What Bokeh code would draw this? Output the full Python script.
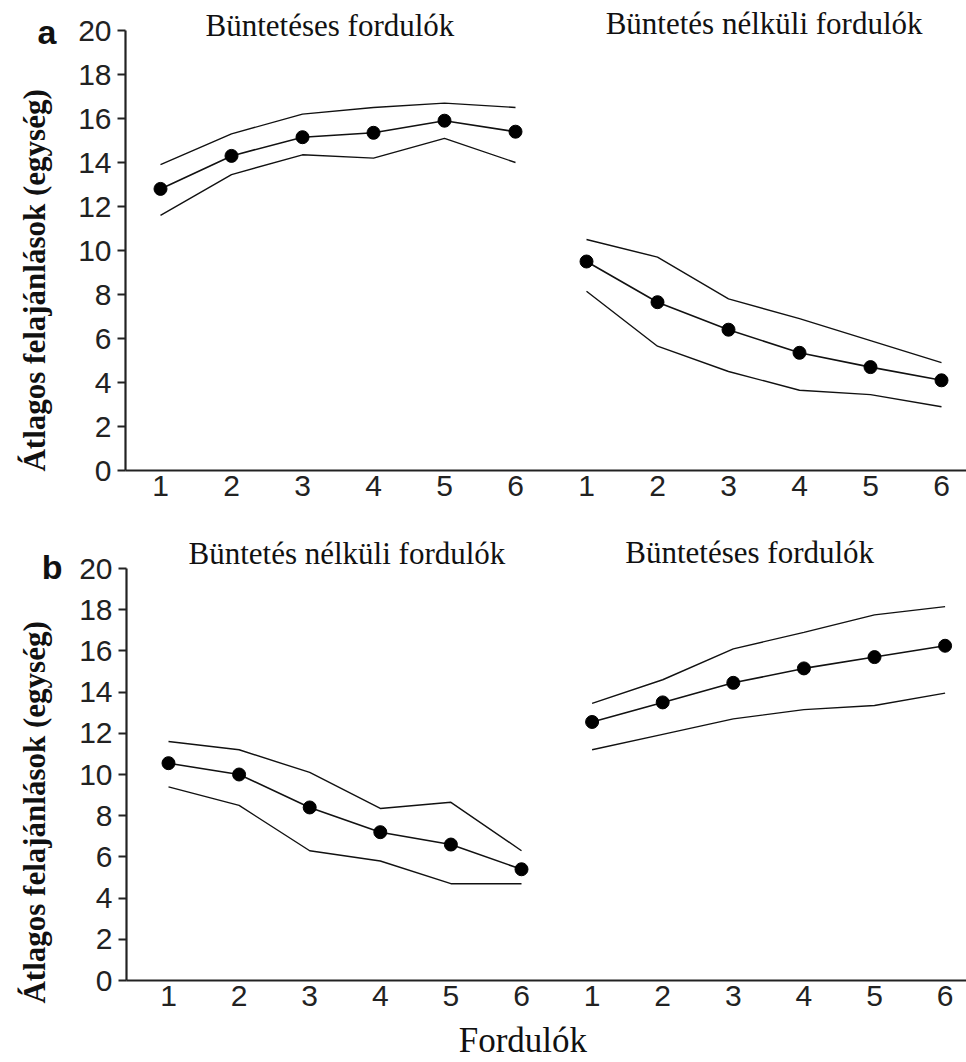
from bokeh.plotting import figure
from bokeh.layouts import column
from bokeh.models import FixedTicker, Label
from bokeh.embed import file_html
from bokeh.resources import INLINE
import math

# ---- data ----
rounds = [1, 2, 3, 4, 5, 6]
tick_positions = [1, 2, 3, 4, 5, 6, 7, 8, 9, 10, 11, 12]
tick_labels = ["1", "2", "3", "4", "5", "6", "1", "2", "3", "4", "5", "6"]
y_ticks = [0, 2, 4, 6, 8, 10, 12, 14, 16, 18, 20]

# panel a: punished rounds first, then non-punished
a_first_title = "Büntetéses fordulók"
a_second_title = "Büntetés nélküli fordulók"
a_first_mean = [12.8, 14.3, 15.15, 15.35, 15.9, 15.4]
a_first_hi = [13.9, 15.3, 16.2, 16.5, 16.7, 16.5]
a_first_lo = [11.6, 13.45, 14.35, 14.2, 15.1, 14.0]
a_second_mean = [9.5, 7.65, 6.4, 5.35, 4.7, 4.1]
a_second_hi = [10.5, 9.7, 7.8, 6.9, 5.9, 4.9]
a_second_lo = [8.15, 5.65, 4.5, 3.65, 3.45, 2.9]

# panel b: non-punished rounds first, then punished
b_first_title = "Büntetés nélküli fordulók"
b_second_title = "Büntetéses fordulók"
b_first_mean = [10.55, 10.0, 8.4, 7.2, 6.6, 5.4]
b_first_hi = [11.6, 11.2, 10.1, 8.35, 8.65, 6.3]
b_first_lo = [9.4, 8.5, 6.3, 5.8, 4.7, 4.7]
b_second_mean = [12.55, 13.5, 14.45, 15.15, 15.7, 16.25]
b_second_hi = [13.45, 14.6, 16.1, 16.9, 17.75, 18.15]
b_second_lo = [11.2, 11.95, 12.7, 13.15, 13.35, 13.95]

y_label = "Átlagos felajánlások (egység)"
x_label = "Fordulók"

SANS = "Liberation Sans"
SERIF = "Liberation Serif"
INK = "#111111"
AX = "#222222"


def make_panel(height, px_x1, px_per_x, px_y0, px_y20, px_axis_x, first, second):
    # frame covers the whole canvas; axes are pinned with fixed_location
    ppu = (px_y0 - px_y20) / 20.0
    x_start = 1 - px_x1 / px_per_x
    x_end = 1 + (966 - px_x1) / px_per_x
    y_start = -(height - px_y0) / ppu
    y_end = 20 + px_y20 / ppu
    y_axis_x = 1 + (px_axis_x - px_x1) / px_per_x

    p = figure(width=966, height=height, x_range=(x_start, x_end),
               y_range=(y_start, y_end),
               output_backend="svg", toolbar_location=None,
               min_border=0, min_border_left=0, min_border_right=0,
               min_border_top=0, min_border_bottom=0)
    p.outline_line_color = None
    p.xgrid.visible = False
    p.ygrid.visible = False
    p.background_fill_color = "white"
    p.border_fill_color = "white"

    xa = p.xaxis[0]
    xa.fixed_location = 0
    xa.bounds = (y_axis_x, x_end)
    xa.ticker = FixedTicker(ticks=tick_positions)
    xa.major_label_overrides = {t: l for t, l in zip(tick_positions, tick_labels)}
    xa.major_tick_out = 0
    xa.major_tick_in = 0
    xa.minor_tick_out = 0
    xa.minor_tick_in = 0
    xa.axis_line_width = 2.2
    xa.axis_line_color = AX
    xa.major_label_text_font = SANS
    xa.major_label_text_font_size = "30px"
    xa.major_label_text_color = AX
    xa.major_label_standoff = 5

    ya = p.yaxis[0]
    ya.fixed_location = y_axis_x
    ya.ticker = FixedTicker(ticks=y_ticks)
    ya.bounds = (0, 20)
    ya.major_tick_out = 8
    ya.major_tick_in = 0
    ya.minor_tick_out = 0
    ya.minor_tick_in = 0
    ya.major_tick_line_width = 2
    ya.major_tick_line_color = AX
    ya.axis_line_width = 2.2
    ya.axis_line_color = AX
    ya.major_label_text_font = SANS
    ya.major_label_text_font_size = "30px"
    ya.major_label_text_color = AX
    ya.major_label_standoff = 6

    for offset, (mean, hi, lo) in zip([0, 6], [first, second]):
        xs = [r + offset for r in rounds]
        p.line(xs, hi, line_color=INK, line_width=1.4)
        p.line(xs, lo, line_color=INK, line_width=1.4)
        p.line(xs, mean, line_color=INK, line_width=1.6)
        p.scatter(xs, mean, size=13, marker="circle", fill_color="black",
                  line_color="black")
    return p


# panel a: page rows 0..515
pa = make_panel(515, 160, 71.0, 470, 30, 125,
                (a_first_mean, a_first_hi, a_first_lo),
                (a_second_mean, a_second_hi, a_second_lo))
# panel b: page rows 515..1062 (local y = page y - 515)
pb = make_panel(547, 168, 70.6, 465, 53, 126,
                (b_first_mean, b_first_hi, b_first_lo),
                (b_second_mean, b_second_hi, b_second_lo))


def lab(p, x, y, text, font, size, bold=False, align="left",
        baseline="alphabetic", angle=0.0):
    p.add_layout(Label(x=x, y=y, text=text, text_font=font,
                       text_font_size=size,
                       text_font_style="bold" if bold else "normal",
                       text_align=align, text_baseline=baseline,
                       text_color=INK, angle=angle))


# panel a annotations
lab(pa, -0.465, 19.95, "a", SANS, "34px", bold=True, align="right")
lab(pa, 1.634, 20.23, a_first_title, SERIF, "31px")
lab(pa, 7.27, 20.32, a_second_title, SERIF, "31px")
lab(pa, -0.775, 8.64, y_label, SERIF, "31px", bold=True, align="center",
    baseline="middle", angle=math.pi / 2)

# panel b annotations
lab(pb, -0.50, 20.05, "b", SANS, "34px", bold=True, align="right")
lab(pb, 1.283, 20.73, b_first_title, SERIF, "31px")
lab(pb, 7.47, 20.78, b_second_title, SERIF, "31px")
lab(pb, -0.898, 8.16, y_label, SERIF, "31px", bold=True, align="center",
    baseline="middle", angle=math.pi / 2)
lab(pb, 5.11, -2.90, x_label, SERIF, "35px")

layout = column(pa, pb, spacing=0)
open("out.html", "w").write(file_html(layout, INLINE))
